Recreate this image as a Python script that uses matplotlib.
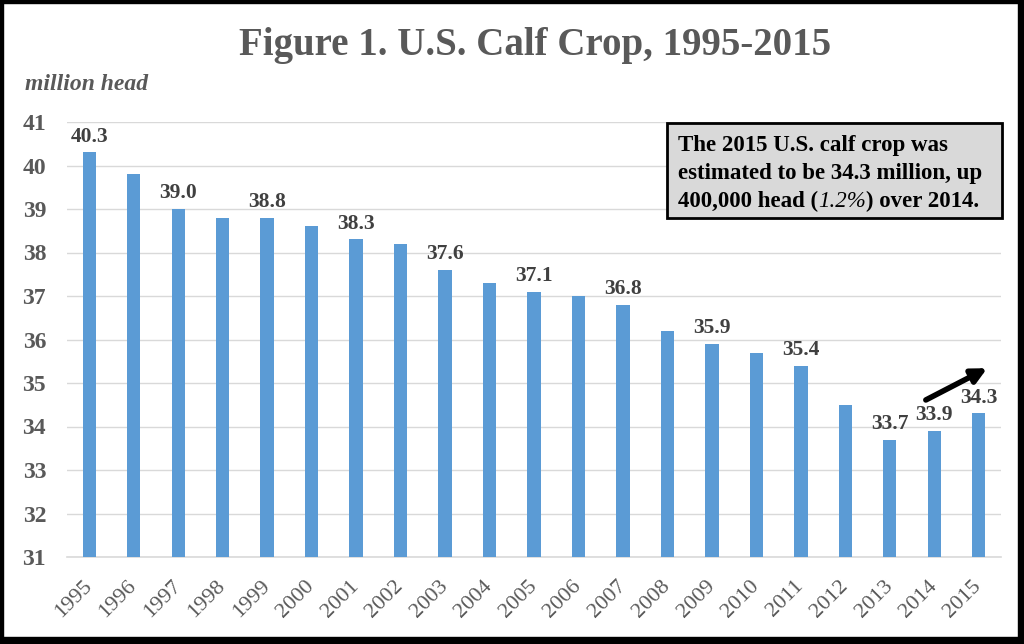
import numpy as np
import matplotlib
matplotlib.use('Agg')
import matplotlib.pyplot as plt
from matplotlib.patches import Rectangle

plt.rcParams['font.family'] = ['Liberation Serif', 'DejaVu Serif']

years = list(range(1995, 2016))
calf_crop = [40.3, 39.8, 39.0, 38.8, 38.8, 38.6, 38.3, 38.2, 37.6, 37.3, 37.1,
             37.0, 36.8, 36.2, 35.9, 35.7, 35.4, 34.5, 33.7, 33.9, 34.3]
labeled_years = [1995, 1997, 1999, 2001, 2003, 2005, 2007, 2009, 2011, 2013, 2014, 2015]
y_ticks = list(range(31, 42))

title = 'Figure 1. U.S. Calf Crop, 1995-2015'
unit_label = 'million head'
note_lines = ['The 2015 U.S. calf crop was',
              'estimated to be 34.3 million, up']
note_last = ['400,000 head (', '1.2%', ') over 2014.']

W, H = 1024, 644


def px(x, y):
    # pixel position (from top-left) -> figure fraction
    return x / W, 1 - y / H


fig = plt.figure(figsize=(W / 100, H / 100), dpi=100)
ax = fig.add_axes([67 / W, 1 - 557 / H, (1001 - 67) / W, (557 - 122) / H])

x = np.arange(len(years))
ax.bar(x, calf_crop, width=0.3, color='#5b9bd5', zorder=3, bottom=0)
ax.set_xlim(-0.5, len(years) - 0.5)
ax.set_ylim(31, 41)
ax.set_yticks(y_ticks)
ax.set_xticks(x)
ax.set_xticklabels([str(y) for y in years], rotation=45, ha='right', va='center',
                   rotation_mode='anchor', fontsize=16, color='#595959')
ax.set_yticklabels([str(v) for v in y_ticks], fontsize=17, fontweight='bold',
                   color='#595959')
ax.tick_params(axis='x', length=0, pad=19)
ax.tick_params(axis='y', length=0, pad=15)
ax.grid(axis='y', color='#d9d9d9', lw=1, zorder=0)
for s in ['left', 'right', 'top']:
    ax.spines[s].set_visible(False)
ax.spines['bottom'].set_color('#d9d9d9')
ax.spines['bottom'].set_linewidth(1.2)

for i, (yr, v) in enumerate(zip(years, calf_crop)):
    if yr in labeled_years:
        ax.annotate('%.1f' % v, (i, v), xytext=(0, 4), textcoords='offset points',
                    ha='center', va='bottom', fontsize=15.5, fontweight='bold',
                    color='#404040')

# arrow showing the 2015 increase
i14 = years.index(2014)
ax.annotate('', xy=(i14 + 1.19, 35.34), xytext=(i14 - 0.19, 34.61),
            arrowprops=dict(arrowstyle='-|>', lw=4, color='black',
                            mutation_scale=22, shrinkA=0, shrinkB=0))

fig.text(*px(535, 45), title, ha='center', va='center', fontsize=28,
         fontweight='bold', color='#595959')
fig.text(*px(25, 85), unit_label, ha='left', va='center', fontsize=17,
         fontweight='bold', fontstyle='italic', color='#595959')

# note box
bx0, by0 = px(667, 218)
fig.patches.append(Rectangle((bx0, by0), 335 / W, 95 / H, transform=fig.transFigure,
                             facecolor='#d9d9d9', edgecolor='black', lw=2, zorder=5))
for k, line in enumerate(note_lines):
    fig.text(*px(678, 146 + 27.5 * k), line, ha='left', va='center', fontsize=16.5,
             fontweight='bold', color='black', zorder=6)
t = fig.text(*px(678, 201), note_last[0], ha='left', va='center', fontsize=16.5,
             fontweight='bold', color='black', zorder=6)
t2 = fig.text(0, 0, note_last[1], fontsize=16.5, fontstyle='italic', color='black', zorder=6)
t3 = fig.text(0, 0, note_last[2], fontsize=16.5, fontweight='bold', color='black', zorder=6)
fig.canvas.draw()
r = fig.canvas.get_renderer()
bb = t.get_window_extent(r)
t2.set_position(((bb.x1) / W, bb.y0 / H))
t2.set_va('bottom')
bb2 = t2.get_window_extent(r)
t3.set_position(((bb2.x1) / W, bb.y0 / H))
t3.set_va('bottom')

# outer frame (thicker on right and bottom)
frame = [(0, 0, W, 3), (0, 0, 3, H), (W - 6, 0, 6, H), (0, H - 7, W, 7)]
for fx, fy, fw, fh in frame:
    fig.patches.append(Rectangle((fx / W, 1 - (fy + fh) / H), fw / W, fh / H,
                                 transform=fig.transFigure, color='black', zorder=10))

fig.savefig('out.png', dpi=100)
